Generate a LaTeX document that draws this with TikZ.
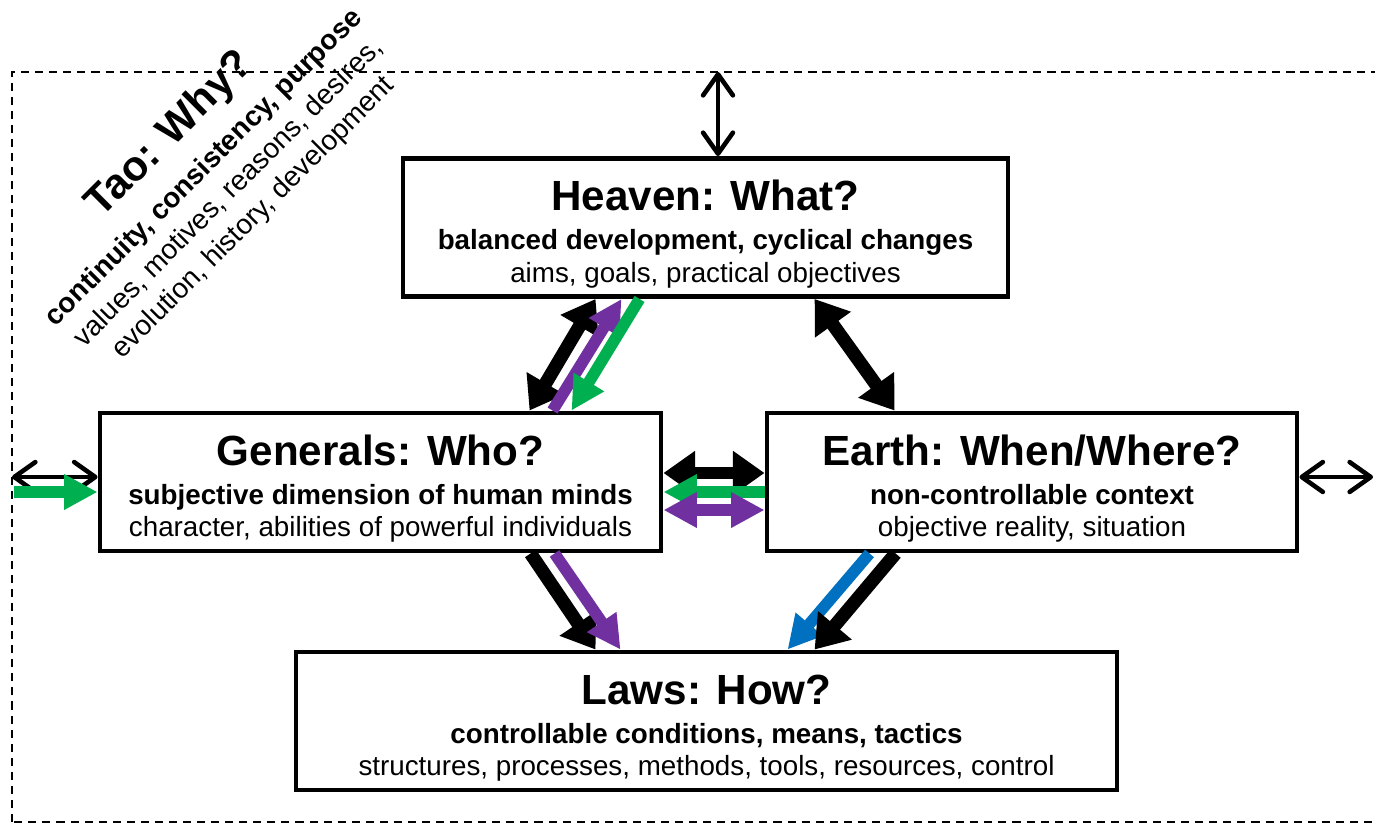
\documentclass[tikz,border=0pt]{standalone}
\usepackage{fontspec}
\setmainfont{Liberation Sans}
\usetikzlibrary{arrows.meta,calc}
\definecolor{pfeilgruen}{HTML}{00B050}
\definecolor{pfeillila}{HTML}{7030A0}
\definecolor{pfeilblau}{HTML}{0070C0}
\newcommand{\titel}[1]{{\fontsize{12}{14}\selectfont\bfseries\rule{0pt}{12.5pt}#1}}
\tikzset{
	kasten/.style={draw, line width=1.4pt, align=center, inner sep=0pt, minimum height=1.38cm, font=\fontsize{7.9}{9.3}\selectfont},
	duenn/.style={line width=1.3pt, >={Straight Barb[length=6pt,width=8.5pt,round]}, <->},
	blockzwei/.style={line width=3.8pt, >={Triangle[length=9pt,width=12pt]}, <->},
	block/.style={line width=3.8pt, >={Triangle[length=9pt,width=12pt]}, ->},
	farbig/.style={line width=3.3pt, >={Triangle[length=9.5pt,width=9.5pt]}, ->},
	farbigzwei/.style={farbig, <->},
}
\begin{document}
\begin{tikzpicture}
	\useasboundingbox (0,0) rectangle (13.75,8.25);
	\draw[line width=0.6pt, dash pattern=on 2.3pt off 1.7pt] (0.12,0.03) rectangle (13.9,7.53);%Rahmen
	
	\node[rotate=45, align=center, font=\fontsize{8}{10}\selectfont] (tao) at (2.10,6.51) {{\fontsize{12}{14}\selectfont\bfseries Tao: Why?}\\[2.5pt]\textbf{continuity, consistency, purpose}\\values, motives, reasons, desires,\\evolution, history, development};
	
	\node[kasten, minimum width=6.05cm] (heaven) at (7.055,5.975) {\titel{Heaven: What?}\\[1.8pt]\textbf{balanced development, cyclical changes}\\aims, goals, practical objectives};
	\node[kasten, minimum width=5.61cm] (generals) at (3.805,3.43) {\titel{Generals: Who?}\\[1.8pt]\textbf{subjective dimension of human minds}\\character, abilities of powerful individuals};
	\node[kasten, minimum width=5.30cm] (earth) at (10.32,3.43) {\titel{Earth: When/Where?}\\[1.8pt]\textbf{non-controllable context}\\objective reality, situation};
	\node[kasten, minimum width=8.21cm] (laws) at (7.065,1.04) {\titel{Laws: How?}\\[1.8pt]\textbf{controllable conditions, means, tactics}\\structures, processes, methods, tools, resources, control};
	
	\coordinate (oben) at (7.18,7.53);
	\coordinate (links) at (0.12,3.48);
	\coordinate (rechts) at (13.73,3.48);
	\draw[duenn] (oben) -- (oben |- heaven.north);%nach aussen oben
	\draw[duenn] (links) -- (links -| generals.west);%nach aussen links
	\draw[farbig, pfeilgruen] (0.14,3.33) -- ($(generals.west)+(0,-0.10)$);
	\draw[duenn] (earth.east |- rechts) -- (rechts);%nach aussen rechts
	
	%Heaven - Generals
	\draw[blockzwei] ($(heaven.south west)+(1.95,0)$) -- ($(generals.north west)+(4.32,0)$);
	\draw[farbig, pfeillila] ($(generals.north west)+(4.55,0)$) -- ($(heaven.south west)+(2.21,0)$);
	\draw[farbig, pfeilgruen] ($(heaven.south west)+(2.39,0)$) -- ($(generals.north west)+(4.74,0)$);
	
	%Heaven - Earth
	\draw[blockzwei] ($(heaven.south west)+(4.14,0)$) -- ($(earth.north west)+(1.30,0)$);
	
	%Generals - Earth
	\draw[blockzwei, line width=3.4pt] ($(generals.east)+(0,0.09)$) -- ($(earth.west)+(0,0.09)$);
	\draw[farbig, pfeilgruen] ($(earth.west)+(0,-0.10)$) -- ($(generals.east)+(0,-0.10)$);
	\draw[farbigzwei, pfeillila] ($(generals.east)+(0,-0.28)$) -- ($(earth.west)+(0,-0.28)$);
	
	%nach Laws
	\draw[block] ($(generals.south west)+(4.33,0)$) -- ($(laws.north west)+(3.02,0)$);
	\draw[farbig, pfeillila] ($(generals.south west)+(4.57,0)$) -- ($(laws.north west)+(3.27,0)$);
	\draw[farbig, pfeilblau] ($(earth.south west)+(1.05,0)$) -- ($(laws.north west)+(4.94,0)$);
	\draw[block] ($(earth.south west)+(1.31,0)$) -- ($(laws.north west)+(5.21,0)$);
\end{tikzpicture}
\end{document}
